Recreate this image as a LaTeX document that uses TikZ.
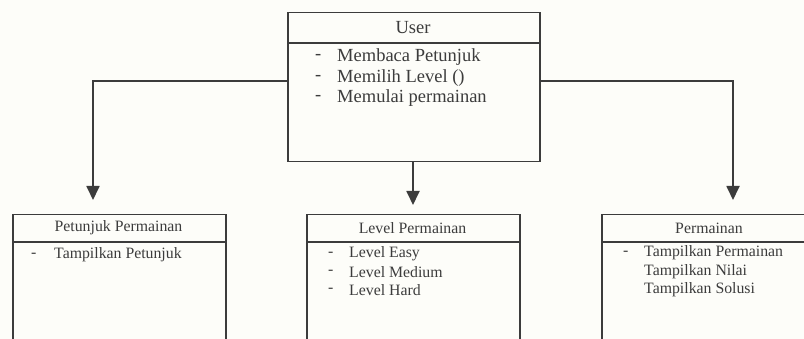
\documentclass[tikz,border=0pt]{standalone}
\usepackage{fontspec}
\setmainfont{Liberation Serif}
\usetikzlibrary{arrows.meta}
\definecolor{paper}{RGB}{253,253,249}
\definecolor{ink}{RGB}{60,60,60}
\definecolor{txt}{RGB}{60,60,60}
\tikzset{
  box/.style={draw=ink, line width=1.5pt, anchor=north west, inner sep=0pt},
  sep/.style={draw=ink, line width=1.5pt},
  link/.style={draw=ink, line width=1.8pt, -{Triangle[width=13pt,length=14pt]}},
  bigtxt/.style={text=txt, inner sep=0pt, font=\fontsize{18.5}{20}\selectfont},
  smalltxt/.style={text=txt, inner sep=0pt, font=\fontsize{15.8}{18}\selectfont},
}
\begin{document}
\begin{tikzpicture}[x=1pt,y=-1pt]
\useasboundingbox[fill=paper] (0,0) rectangle (804,339);
\clip (0,0) rectangle (804,339);

% top class: User
\node[box, minimum width=252pt, minimum height=149pt] (user) at (287,12) {};
\draw[sep] (287,43) -- (539,43);
\node[bigtxt] (usert) at (413,27.5) {User};
\node[bigtxt, anchor=west] (ud1) at (315,57) {-};
\node[bigtxt, anchor=west] (u1) at (337,57) {Membaca Petunjuk};
\node[bigtxt, anchor=west] (ud2) at (315,78) {-};
\node[bigtxt, anchor=west] (u2) at (337,78) {Memilih Level ()};
\node[bigtxt, anchor=west] (ud3) at (315,98) {-};
\node[bigtxt, anchor=west] (u3) at (337,98) {Memulai permainan};

% left class: Petunjuk Permainan
\node[box, minimum width=213pt, minimum height=140pt] (pet) at (12,214) {};
\draw[sep] (12,242) -- (225,242);
\node[smalltxt] (pett) at (118.5,228) {Petunjuk Permainan};
\node[smalltxt, anchor=west] (pd1) at (31,255) {-};
\node[smalltxt, anchor=west] (p1) at (54,255) {Tampilkan Petunjuk};

% middle class: Level Permainan
\node[box, minimum width=213pt, minimum height=140pt] (lvl) at (306,214) {};
\draw[sep] (306,242) -- (519,242);
\node[smalltxt] (lvlt) at (412.5,228) {Level Permainan};
\node[smalltxt, anchor=west] (ld1) at (328,254) {-};
\node[smalltxt, anchor=west] (l1) at (349,254) {Level Easy};
\node[smalltxt, anchor=west] (ld2) at (328,272) {-};
\node[smalltxt, anchor=west] (l2) at (349,272) {Level Medium};
\node[smalltxt, anchor=west] (ld3) at (328,290) {-};
\node[smalltxt, anchor=west] (l3) at (349,290) {Level Hard};

% right class: Permainan
\node[box, minimum width=215pt, minimum height=140pt] (game) at (601,214) {};
\draw[sep] (601,242) -- (816,242);
\node[smalltxt] (gamet) at (709,228) {Permainan};
\node[smalltxt, anchor=west] (gd1) at (623,253) {-};
\node[smalltxt, anchor=west] (g1) at (644,253) {Tampilkan Permainan};
\node[smalltxt, anchor=west] (g2) at (644,272) {Tampilkan Nilai};
\node[smalltxt, anchor=west] (g3) at (644,290) {Tampilkan Solusi};

% connectors
\coordinate (lbend) at (93,81);
\coordinate (ltip) at (93,200);
\coordinate (mtip) at (413,205);
\coordinate (rbend) at (733,81);
\coordinate (rtip) at (733,200);
\draw[link] (user.west |- lbend) -- (lbend) -- (ltip);
\draw[link] (user.south -| mtip) -- (mtip);
\draw[link] (user.east |- rbend) -- (rbend) -- (rtip);
\end{tikzpicture}
\end{document}
